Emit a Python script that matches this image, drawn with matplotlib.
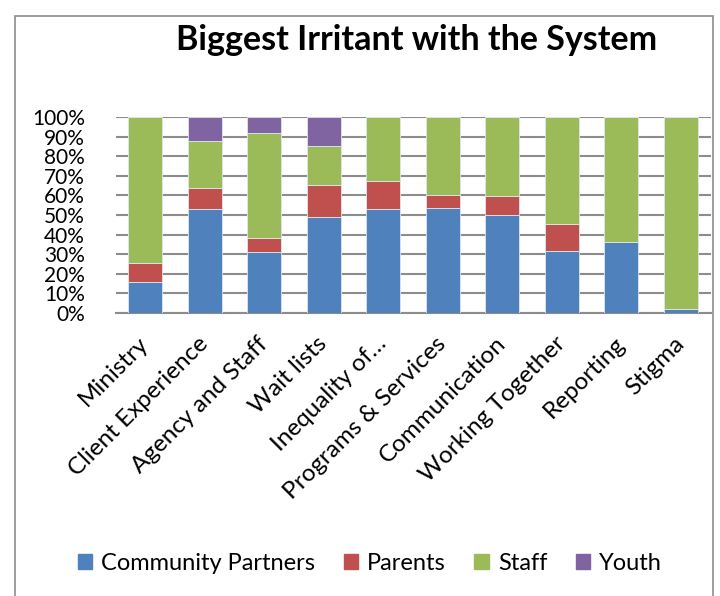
import matplotlib.pyplot as plt
import matplotlib.patches as mpatches
import numpy as np

categories = ['Ministry', 'Client Experience', 'Agency and Staff', 'Wait lists',
              'Inequality of…', 'Programs & Services', 'Communication',
              'Working Together', 'Reporting', 'Stigma']
community = [15.5, 52.9, 31.1, 48.8, 52.9, 53.4, 50.0, 31.7, 36.3, 1.9]
parents = [10.1, 10.9, 7.3, 16.7, 14.7, 6.7, 9.6, 13.9, 0.0, 0.0]
staff = [74.4, 23.9, 53.6, 19.8, 32.4, 39.9, 40.4, 54.4, 63.7, 98.1]
youth = [0.0, 12.3, 8.0, 14.7, 0.0, 0.0, 0.0, 0.0, 0.0, 0.0]
tick_labels = ['0%', '10%', '20%', '30%', '40%', '50%', '60%', '70%', '80%', '90%', '100%']

series = [('Community Partners', community, '#4F81BD'),
          ('Parents', parents, '#C0504D'),
          ('Staff', staff, '#9BBB59'),
          ('Youth', youth, '#8064A2')]

plt.rcParams['font.family'] = ['Lato', 'DejaVu Sans']

fig = plt.figure(figsize=(7.2, 5.96), dpi=100)
ax = fig.add_axes([115.5 / 720, 1 - 312.7 / 596, 595 / 720, 195.4 / 596])

x = np.arange(len(categories))
bottom = np.zeros(len(categories))
handles = []
for name, vals, col in series:
    vals = np.array(vals)
    ax.bar(x, vals, 0.57, bottom=bottom, color=col, edgecolor='#dfe6f0', linewidth=0.6, zorder=3)
    bottom += vals
    handles.append(mpatches.Patch(color=col, label=name))

ax.set_xlim(-0.5, len(categories) - 0.5)
ax.set_ylim(0, 100)
ax.set_yticks(np.arange(0, 101, 10))
ax.set_yticklabels(tick_labels, fontsize=15)
ax.yaxis.grid(True, color='#8c8c8c', linewidth=1.5, zorder=0)
ax.tick_params(axis='y', length=0, pad=22)
ax.tick_params(axis='x', length=0, pad=20)
ax.set_xticks(x)
ax.set_xticklabels(categories, rotation=45, ha='right', va='center', rotation_mode='anchor', fontsize=17.5)
for s in ['top', 'right', 'left']:
    ax.spines[s].set_visible(False)
ax.spines['bottom'].set_color('#8c8c8c')
ax.spines['bottom'].set_linewidth(1.5)

fig.text(417 / 720, 1 - 40 / 596, 'Biggest Irritant with the System', ha='center', va='center',
         fontsize=24.5, fontweight='bold')

fig.legend(handles=handles, loc='center', bbox_to_anchor=(370 / 720, 1 - 563 / 596), ncol=4,
           frameon=False, fontsize=17, handlelength=0.6, handleheight=0.6,
           handletextpad=0.4, columnspacing=1.2)

fig.patches.append(mpatches.Rectangle((15 / 720, -0.05), 698 / 720, 1.05 - 16 / 596,
                                      transform=fig.transFigure, fill=False,
                                      edgecolor='#8c8c8c', linewidth=1.2))

plt.savefig('out.png', dpi=100)
plt.close()
